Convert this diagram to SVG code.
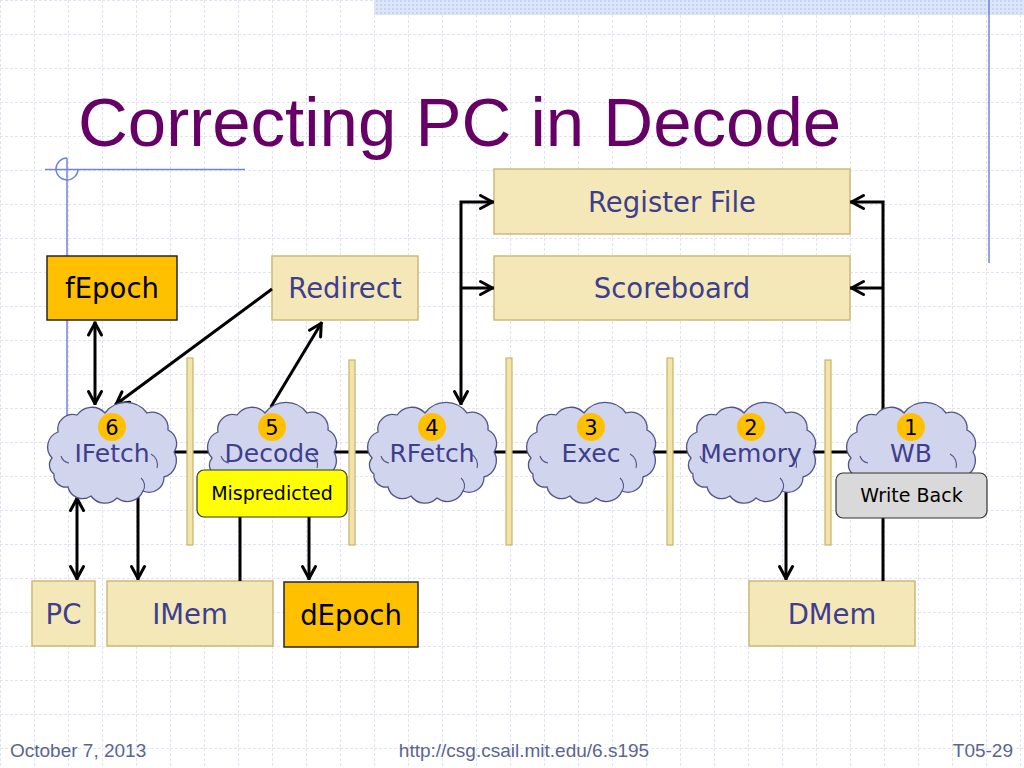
<svg xmlns="http://www.w3.org/2000/svg" width="1024" height="768" viewBox="0 0 1024 768">
<defs>
<pattern id="grid" width="34" height="34" patternUnits="userSpaceOnUse">
<path d="M0,0.5 H34 M0.5,0 V34" stroke="#e0e4f0" stroke-width="1" stroke-dasharray="3 2" fill="none"/>
</pattern>
<pattern id="dots" width="4" height="4" patternUnits="userSpaceOnUse">
<rect width="4" height="4" fill="#dde6f8"/>
<rect width="2" height="2" fill="#c6d4f2"/>
</pattern>
<marker id="ah" markerUnits="userSpaceOnUse" markerWidth="20" markerHeight="20" refX="15.5" refY="8" orient="auto-start-reverse" overflow="visible">
<path d="M2,1.5 L14,8 L2,14.5" fill="none" stroke="#000" stroke-width="3" stroke-linecap="round" stroke-linejoin="round"/>
</marker>
<g id="cloudShape">
<path class="cloud" d="M5,56 A16,16 0 0 1 11,30 A15,15 0 0 1 30,13 A18,18 0 0 1 58,11 A26,26 0 0 1 100,11 A16,16 0 0 1 121,28 A15,15 0 0 1 127,50 A17,17 0 0 1 117,75 A15,15 0 0 1 96,89 A17,17 0 0 1 70,96 A17,17 0 0 1 44,94 A15,15 0 0 1 21,85 A12,12 0 0 1 7,72 A11,11 0 0 1 5,56 Z"/>
<path class="inner" d="M104,52 A12,12 0 0 1 110,66 M94,76 A10,10 0 0 1 96,89 M14,54 A10,10 0 0 0 22,61"/>
</g>
</defs>
<style>
.box{fill:#f4e8b8;stroke:#cdb977;stroke-width:1.5}
.obox{fill:#ffc000;stroke:#262626;stroke-width:1.5}
.lbl{font-family:"DejaVu Sans",sans-serif;font-size:27.5px;fill:#3e3e8e;text-anchor:middle}
.olbl{font-family:"DejaVu Sans",sans-serif;font-size:27.5px;fill:#000;text-anchor:middle}
.clbl{font-family:"DejaVu Sans",sans-serif;font-size:25px;fill:#3e3e8e;text-anchor:middle}
.num{font-family:"DejaVu Sans",sans-serif;font-size:21px;fill:#000;text-anchor:middle}
.dot{fill:#ffc000}
.cloud{fill:#d1d4ed;stroke:#50548a;stroke-width:1.3}
.inner{fill:none;stroke:#50548a;stroke-width:1.1}
.wire{stroke:#000;stroke-width:3;fill:none}
.bar{fill:#f2e4a8;stroke:#c8b36c;stroke-width:1.2}
.small{font-family:"DejaVu Sans",sans-serif;font-size:19px;fill:#000;text-anchor:middle}
.foot{font-family:"Liberation Sans",Arial,sans-serif;font-size:19px;fill:#5a6690}
.deco{stroke:#7384da;stroke-width:1.5;fill:none}
</style>

<rect width="1024" height="768" fill="#ffffff"/>
<rect width="1024" height="768" fill="url(#grid)"/>
<rect x="374" y="0" width="650" height="15" fill="url(#dots)"/>
<g id="decoration">
<line class="deco" x1="989" y1="0" x2="989" y2="263"/>
<line class="deco" x1="45" y1="169.5" x2="245" y2="169.5"/>
<line class="deco" x1="67" y1="158" x2="67" y2="430"/>
<path class="deco" d="M67,158 A11,11 0 1 0 78,169.5"/>
</g>

<text x="78" y="146" font-family="'Liberation Sans',Arial,sans-serif" font-size="69" fill="#660066">Correcting PC in Decode</text>

<g id="regfile"><rect class="box" x="494" y="169" width="356" height="65"/><text class="lbl" x="672" y="212">Register File</text></g>
<g id="scoreboard"><rect class="box" x="494" y="256" width="356" height="64"/><text class="lbl" x="672" y="298">Scoreboard</text></g>
<g id="fepoch"><rect class="obox" x="47" y="256" width="130" height="64"/><text class="olbl" x="112" y="298">fEpoch</text></g>
<g id="redirect"><rect class="box" x="272" y="256" width="146" height="64"/><text class="lbl" x="345" y="298">Redirect</text></g>
<g id="pc"><rect class="box" x="32" y="581" width="63" height="65"/><text class="lbl" x="63.5" y="623.5">PC</text></g>
<g id="imem"><rect class="box" x="107" y="581" width="166" height="65"/><text class="lbl" x="190" y="623.5">IMem</text></g>
<g id="depoch"><rect class="obox" x="284" y="582" width="134" height="65"/><text class="olbl" x="351" y="624.5">dEpoch</text></g>
<g id="dmem"><rect class="box" x="749" y="581" width="166" height="65"/><text class="lbl" x="832" y="623.5">DMem</text></g>

<g id="connectors">
<line class="wire" x1="112" y1="452" x2="911" y2="452"/>
<line class="wire" x1="95" y1="321.5" x2="95" y2="405" marker-start="url(#ah)" marker-end="url(#ah)"/>
<line class="wire" x1="272" y1="289" x2="115" y2="405" marker-end="url(#ah)"/>
<line class="wire" x1="270.8" y1="407" x2="322" y2="322" marker-end="url(#ah)"/>
<path class="wire" d="M461,405 L461,202 L494,202" marker-start="url(#ah)" marker-end="url(#ah)"/>
<line class="wire" x1="461" y1="288" x2="494" y2="288" marker-end="url(#ah)"/>
<path class="wire" d="M883,440 L883,202 L850,202" marker-end="url(#ah)"/>
<line class="wire" x1="883" y1="288" x2="850" y2="288" marker-end="url(#ah)"/>
<line class="wire" x1="77" y1="497" x2="77" y2="580" marker-start="url(#ah)" marker-end="url(#ah)"/>
<line class="wire" x1="138" y1="470" x2="138" y2="580" marker-end="url(#ah)"/>
<line class="wire" x1="240" y1="500" x2="240" y2="581"/>
<line class="wire" x1="309" y1="500" x2="309" y2="580" marker-end="url(#ah)"/>
<line class="wire" x1="786" y1="470" x2="786" y2="580" marker-end="url(#ah)"/>
<line class="wire" x1="883" y1="500" x2="883" y2="581"/>
</g>

<g id="ifetch"><use href="#cloudShape" transform="translate(47,402)"/><circle class="dot" cx="112" cy="427" r="14"/><text class="num" x="112" y="434.5">6</text><text class="clbl" x="112" y="462">IFetch</text></g>
<g id="decode"><use href="#cloudShape" transform="translate(207,402)"/><circle class="dot" cx="272" cy="427" r="14"/><text class="num" x="272" y="434.5">5</text><text class="clbl" x="272" y="462">Decode</text></g>
<g id="rfetch"><use href="#cloudShape" transform="translate(367,402)"/><circle class="dot" cx="432" cy="427" r="14"/><text class="num" x="432" y="434.5">4</text><text class="clbl" x="432" y="462">RFetch</text></g>
<g id="exec"><use href="#cloudShape" transform="translate(526,402)"/><circle class="dot" cx="591" cy="427" r="14"/><text class="num" x="591" y="434.5">3</text><text class="clbl" x="591" y="462">Exec</text></g>
<g id="memory"><use href="#cloudShape" transform="translate(686,402)"/><circle class="dot" cx="751" cy="427" r="14"/><text class="num" x="751" y="434.5">2</text><text class="clbl" x="751" y="462">Memory</text></g>
<g id="wb"><use href="#cloudShape" transform="translate(846,402)"/><circle class="dot" cx="911" cy="427" r="14"/><text class="num" x="911" y="434.5">1</text><text class="clbl" x="911" y="462">WB</text></g>

<g id="mispredicted"><rect x="197" y="470" width="150" height="47" rx="7" fill="#ffff00" stroke="#333" stroke-width="1.2"/><text class="small" x="272" y="500">Mispredicted</text></g>
<g id="writeback"><rect x="836" y="473" width="151" height="45" rx="7" fill="#d9d9d9" stroke="#333" stroke-width="1.2"/><text class="small" x="911.5" y="502">Write Back</text></g>

<g id="pipeline-registers">
<rect class="bar" x="187" y="358" width="6" height="187"/>
<rect class="bar" x="349" y="360" width="6" height="185"/>
<rect class="bar" x="506" y="358" width="6" height="187"/>
<rect class="bar" x="667" y="358" width="6" height="187"/>
<rect class="bar" x="825" y="360" width="6" height="185"/>
</g>

<text class="foot" x="10" y="757">October 7, 2013</text>
<text class="foot" x="524" y="757" text-anchor="middle">http://csg.csail.mit.edu/6.s195</text>
<text class="foot" x="1013" y="757" text-anchor="end">T05-29</text>
</svg>
